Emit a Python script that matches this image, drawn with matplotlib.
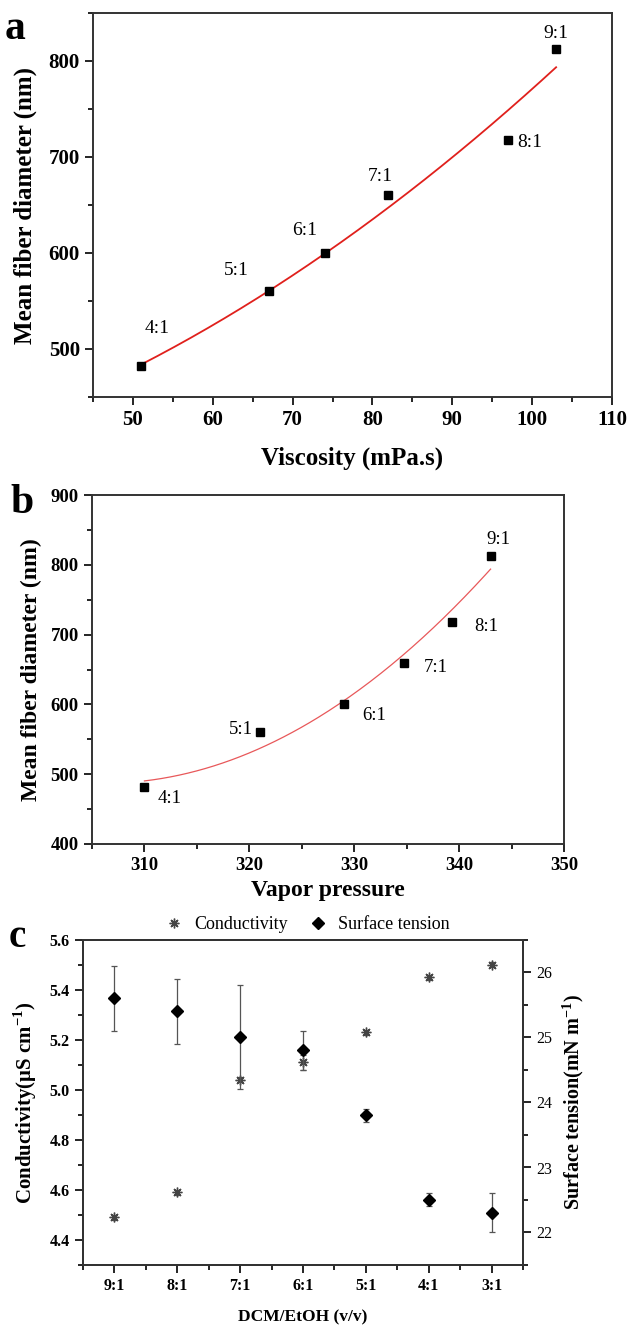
import numpy as np
import matplotlib
matplotlib.use("Agg")
import matplotlib.pyplot as plt
from matplotlib.ticker import MultipleLocator

plt.rcParams['font.family'] = ['Liberation Serif', 'DejaVu Serif']
plt.rcParams['mathtext.fontset'] = 'custom'
plt.rcParams['mathtext.rm'] = 'Liberation Serif'
plt.rcParams['mathtext.bf'] = 'Liberation Serif:bold'

# ---- data ----
ratios = ['4:1', '5:1', '6:1', '7:1', '8:1', '9:1']
viscosity = [51, 67, 74, 82, 97, 103]
vapor = [310, 321, 329, 334.7, 339.3, 343]
diameter = [482, 560, 600, 660, 718, 813]

c_ratios = ['9:1', '8:1', '7:1', '6:1', '5:1', '4:1', '3:1']
conductivity = [4.49, 4.59, 5.04, 5.11, 5.23, 5.45, 5.50]
cond_err = [0.01, 0.01, 0.01, 0.03, 0.01, 0.01, 0.01]
surf_tension = [25.6, 25.4, 25.0, 24.8, 23.8, 22.5, 22.3]
st_err = [0.5, 0.5, 0.8, 0.3, 0.1, 0.1, 0.3]

fig = plt.figure(figsize=(6.3, 13.28), dpi=100)

def style(ax, fs):
    ax.tick_params(which='major', direction='out', length=6, width=1.2, labelsize=fs)
    ax.tick_params(which='minor', direction='out', length=3.5, width=1.2)
    for s in ax.spines.values():
        s.set_linewidth(1.4)
        s.set_color('#333333')
    for t in ax.get_xticklabels() + ax.get_yticklabels():
        t.set_fontweight('bold')

# ---- panel a ----
axa = fig.add_axes([93/630, 1-397/1328, 519/630, 384/1328])
p = np.polyfit(viscosity, diameter, 2)
xx = np.linspace(viscosity[0], viscosity[-1], 200)
axa.plot(xx, np.polyval(p, xx), color='#e0201c', lw=1.3, zorder=2)
axa.plot(viscosity, diameter, 's', color='black', ms=6, zorder=3)
offs_a = [(2, 39), (-4, 22), (-2.5, 23), (-1, 20), (2.7, -3), (0, 16)]
for lab, x, y, (dx, dy) in zip(ratios, viscosity, diameter, offs_a):
    axa.text(x + dx, y + dy, lab, fontsize=14, ha='center', va='center')
axa.set_xlim(45, 110)
axa.set_ylim(450, 850)
axa.xaxis.set_major_locator(MultipleLocator(10))
axa.xaxis.set_minor_locator(MultipleLocator(5))
axa.yaxis.set_major_locator(MultipleLocator(100))
axa.yaxis.set_minor_locator(MultipleLocator(50))
axa.set_xlabel('Viscosity (mPa.s)', fontsize=18, fontweight='bold', labelpad=12)
axa.set_ylabel('Mean fiber diameter (nm)', fontsize=18, fontweight='bold', labelpad=8)
style(axa, 15)
fig.text(0.008, 0.971, 'a', fontsize=30, fontweight='bold')

# ---- panel b ----
axb = fig.add_axes([92/630, 1-844/1328, 472/630, 349/1328])
p = np.polyfit(vapor, diameter, 2)
xx = np.linspace(vapor[0], vapor[-1], 200)
axb.plot(xx, np.polyval(p, xx), color='#e8585a', lw=0.9, zorder=2)
axb.plot(vapor, diameter, 's', color='black', ms=6, zorder=3)
offs_b = [(2.4, -17), (-0.7, 4), (2.9, -16), (3.1, -7), (3.3, -6), (0.7, 23)]
has = ['center', 'right', 'center', 'center', 'center', 'center']
for lab, x, y, (dx, dy), h in zip(ratios, vapor, diameter, offs_b, has):
    axb.text(x + dx, y + dy, lab, fontsize=13.5, ha=h, va='center')
axb.set_xlim(305, 350)
axb.set_ylim(400, 900)
axb.xaxis.set_major_locator(MultipleLocator(10))
axb.xaxis.set_minor_locator(MultipleLocator(5))
axb.yaxis.set_major_locator(MultipleLocator(100))
axb.yaxis.set_minor_locator(MultipleLocator(50))
axb.set_xlabel('Vapor pressure', fontsize=17, fontweight='bold', labelpad=4)
axb.set_ylabel('Mean fiber diameter (nm)', fontsize=17, fontweight='bold', labelpad=6)
style(axb, 13.5)
fig.text(0.016, 0.614, 'b', fontsize=30, fontweight='bold')

# ---- panel c ----
axc = fig.add_axes([83/630, 1-1265/1328, 440/630, 325/1328])
axc2 = axc.twinx()
pos = np.arange(len(c_ratios))
axc.errorbar(pos, conductivity, yerr=cond_err, fmt='none', ecolor='#555555',
             elinewidth=0.9, capsize=2.5, capthick=0.9)
m1, = axc.plot(pos, conductivity, ls='none', marker=(8, 2, 0), ms=7, mew=1,
               color='#444444', label='Conductivity')
axc2.errorbar(pos, surf_tension, yerr=st_err, fmt='none', ecolor='#555555',
              elinewidth=0.9, capsize=2.5, capthick=0.9)
m2, = axc2.plot(pos, surf_tension, ls='none', marker='D', ms=6, color='black',
                label='Surface tension')
axc.set_xlim(-0.5, 6.5)
axc.set_ylim(4.3, 5.6)
axc2.set_ylim(21.5, 26.5)
axc.set_xticks(pos)
axc.set_xticklabels(c_ratios)
axc.set_xticks(np.arange(-0.5, 6.6, 1), minor=True)
axc.yaxis.set_major_locator(MultipleLocator(0.2))
axc.yaxis.set_minor_locator(MultipleLocator(0.1))
axc2.yaxis.set_major_locator(MultipleLocator(1))
axc2.yaxis.set_minor_locator(MultipleLocator(0.5))
axc.yaxis.set_major_formatter(matplotlib.ticker.FormatStrFormatter('%.1f'))
axc.set_xlabel('DCM/EtOH (v/v)', fontsize=12.5, fontweight='bold', labelpad=11)
axc.set_ylabel(r'Conductivity(μS cm$^{\mathbf{-1}}$)', fontsize=15, fontweight='bold', labelpad=8)
axc2.set_ylabel(r'Surface tension(mN m$^{\mathbf{-1}}$)', fontsize=14.5, fontweight='bold', labelpad=6)
style(axc, 11.5)
style(axc2, 11.5)
for t in axc2.get_yticklabels():
    t.set_fontweight('normal')
axc.legend(handles=[m1, m2], loc='center', bbox_to_anchor=(0.51, 1.048), ncol=2,
           frameon=False, fontsize=13, handlelength=1.0, handletextpad=0.6,
           columnspacing=1.2, borderaxespad=0)
fig.text(0.014, 0.287, 'c', fontsize=28, fontweight='bold')

fig.savefig('out.png', dpi=100)
